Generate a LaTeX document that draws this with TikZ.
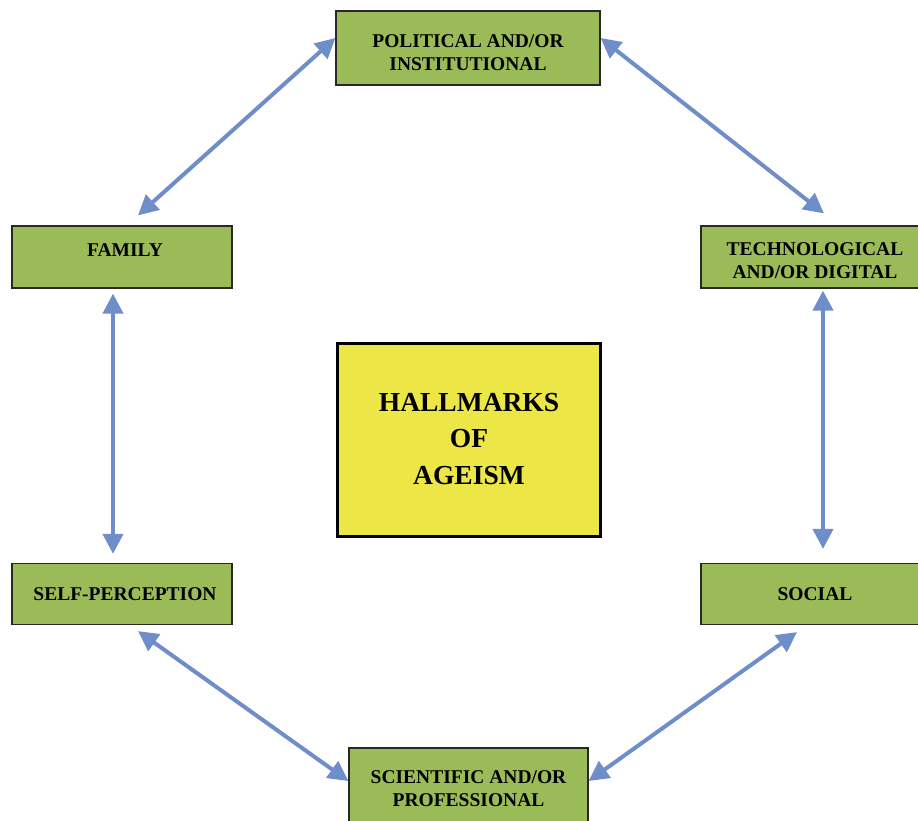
\documentclass[tikz,border=0pt]{standalone}
\usepackage{fontspec}
\setmainfont{Liberation Serif}
\usetikzlibrary{arrows.meta}
\definecolor{boxgreen}{RGB}{155,187,89}
\definecolor{boxyellow}{RGB}{236,230,70}
\definecolor{arrowblue}{RGB}{111,142,201}
\definecolor{edgegray}{RGB}{40,40,40}
\tikzset{
  gbox/.style={draw=edgegray, line width=1.2pt, fill=boxgreen, inner sep=0pt},
  ybox/.style={draw=black, line width=2.4pt, fill=boxyellow, inner sep=0pt, minimum width=263pt, minimum height=193pt},
  gtxt/.style={align=center, inner sep=0pt, font=\bfseries\fontsize{19.5}{23}\selectfont},
  ytxt/.style={align=center, inner sep=0pt, font=\bfseries\fontsize{27.5}{36.5}\selectfont},
  link/.style={draw=arrowblue, line width=4pt, {Triangle[length=20pt,width=20pt]}-{Triangle[length=20pt,width=20pt]}}
}
\begin{document}
\begin{tikzpicture}[x=1pt,y=-1pt]
\useasboundingbox[fill=white] (0,0) rectangle (918,820);
% boxes
\node[gbox, minimum width=264pt, minimum height=74pt] (pol) at (468,48) {};
\node[gbox, minimum width=220pt, minimum height=62pt] (fam) at (122,257) {};
\node[gbox, minimum width=220pt, minimum height=62pt] (tech) at (811,257) {};
\node[gbox, minimum width=220pt, minimum height=61pt] (sp) at (122,594) {};
\node[gbox, minimum width=220pt, minimum height=61pt] (soc) at (811,594) {};
\node[gbox, minimum width=239pt, minimum height=74pt] (sci) at (468.5,785) {};
\node[ybox] (hall) at (469,440) {};
% texts
\node[gtxt] (polt) at ([yshift=-5pt]pol.center) {POLITICAL AND/OR\\INSTITUTIONAL};
\node[gtxt] (famt) at ([xshift=3pt,yshift=7pt]fam.center) {FAMILY};
\node[gtxt] (techt) at ([xshift=4pt,yshift=-4pt]tech.center) {TECHNOLOGICAL\\AND/OR DIGITAL};
\node[gtxt] (spt) at ([xshift=3pt]sp.center) {SELF-PERCEPTION};
\node[gtxt] (soct) at ([xshift=4pt]soc.center) {SOCIAL};
\node[gtxt] (scit) at ([yshift=-4pt]sci.center) {SCIENTIFIC AND/OR\\PROFESSIONAL};
\node[ytxt] (hallt) at ([yshift=1pt]hall.center) {HALLMARKS\\OF\\AGEISM};
% connectors
\draw[link] ([yshift=10pt]pol.west) -- ([xshift=16pt,yshift=10pt]fam.north);
\draw[link] ([yshift=10pt]pol.east) -- ([xshift=13pt,yshift=12pt]tech.north);
\draw[link] ([xshift=-9pt,yshift=-5pt]fam.south) -- ([xshift=-9pt,yshift=9pt]sp.north);
\draw[link] ([xshift=12pt,yshift=-2pt]tech.south) -- ([xshift=12pt,yshift=14pt]soc.north);
\draw[link] ([xshift=16pt,yshift=-6pt]sp.south) -- ([yshift=4pt]sci.west);
\draw[link] ([xshift=-14pt,yshift=-7pt]soc.south) -- ([yshift=4pt]sci.east);
\end{tikzpicture}
\end{document}
